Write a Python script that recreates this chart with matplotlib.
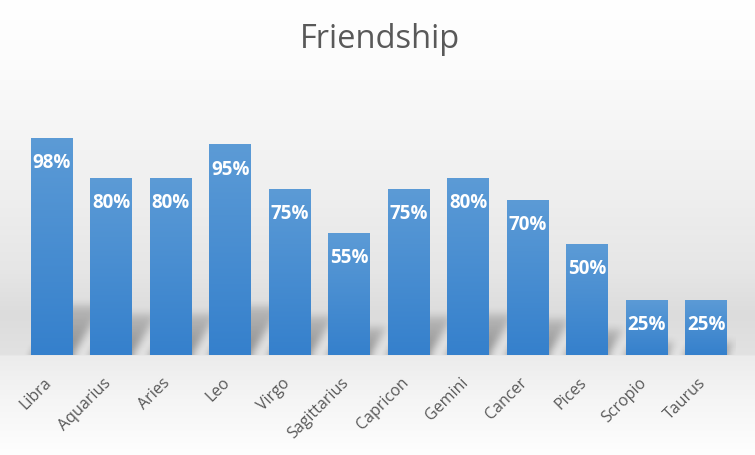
import numpy as np
import matplotlib.pyplot as plt
import matplotlib.transforms as mtransforms
from matplotlib.colors import LinearSegmentedColormap

signs = ['Libra', 'Aquarius', 'Aries', 'Leo', 'Virgo', 'Sagittarius',
         'Capricon', 'Gemini', 'Cancer', 'Pices', 'Scropio', 'Taurus']
friendship = [98, 80, 80, 95, 75, 55, 75, 80, 70, 50, 25, 25]

bar_w = 0.7
ylim_top = 1.2


def box_blur(a, r):
    # separable box blur, done with cumulative sums
    for axis in (0, 1):
        pad = [(0, 0), (0, 0)]
        pad[axis] = (r + 1, r)
        p = np.pad(a, pad, mode='edge')
        c = np.cumsum(p, axis=axis)
        if axis == 0:
            a = (c[2 * r + 1:] - c[:-2 * r - 1]) / (2 * r + 1)
        else:
            a = (c[:, 2 * r + 1:] - c[:, :-2 * r - 1]) / (2 * r + 1)
    return a


fig = plt.figure(figsize=(7.55, 4.56), dpi=100)

# chart background gradient
bg = fig.add_axes([0, 0, 1, 1], zorder=0)
stop_px = [0, 60, 130, 200, 270, 315, 355, 357, 400, 456]
stop_grey = [255, 252, 245, 238, 230, 220, 226, 236, 245, 254]
rows = np.interp(np.arange(456), stop_px, stop_grey) / 255
bg_img = np.repeat(rows[:, None, None], 3, axis=2)
bg.imshow(bg_img, extent=(0, 1, 0, 1), aspect='auto', origin='upper')
bg.set_xlim(0, 1)
bg.set_ylim(0, 1)
bg.axis('off')

ax = fig.add_axes([22 / 755, 100 / 456, 714 / 755, 266 / 456], zorder=1)
ax.patch.set_alpha(0)

x = np.arange(len(signs))
vals = np.array(friendship) / 100

# soft shadows cast behind the bars
W, H = 714, 266
gx = np.linspace(-0.5, len(signs) - 0.5, W)
gy = np.linspace(0, ylim_top, H)
X, Y = np.meshgrid(gx, gy)
shade = np.zeros((H, W))
for i, h in enumerate(vals):
    dy = 0.23 * h
    dx = 0.52 * h
    t = Y / dy
    inside = (Y <= dy) & (X >= i - bar_w / 2 + dx * t) & (X <= i + bar_w / 2 + dx * t)
    shade = np.maximum(shade, np.where(inside, 0.38 * (1 - 0.6 * t), 0))
shade = box_blur(box_blur(shade, 4), 4)
rgba = np.zeros((H, W, 4))
rgba[..., 3] = shade
ax.imshow(rgba, extent=(-0.5, len(signs) - 0.5, 0, ylim_top), origin='lower',
          aspect='auto', zorder=1, interpolation='bilinear')

bars = ax.bar(x, vals, width=bar_w, color='none', zorder=2)
cmap = LinearSegmentedColormap.from_list('bar', ['#3580cc', '#5c9bd6'])
grad = np.linspace(0, 1, 128)[:, None]
for b in bars:
    im = ax.imshow(grad, extent=(b.get_x(), b.get_x() + b.get_width(), 0, b.get_height()),
                   origin='lower', aspect='auto', cmap=cmap, zorder=2)
    im.set_clip_path(b)

for i, v in enumerate(friendship):
    ax.annotate(f'{v}%', (i, v / 100), xytext=(0, -17.5), textcoords='offset points',
                ha='center', va='center', color='white', fontsize=13.5,
                fontweight='bold', family='Open Sans', zorder=3)

ax.set_xlim(-0.5, len(signs) - 0.5)
ax.set_ylim(0, ylim_top)
ax.set_xticks([])
ax.set_yticks([])
for s in ax.spines.values():
    s.set_visible(False)

# category labels, rotated like Excel's
lab_tr = ax.get_xaxis_transform() + mtransforms.ScaledTranslation(3 / 100, -19 / 100, fig.dpi_scale_trans)
for i, name in enumerate(signs):
    ax.text(i, 0, name, transform=lab_tr, rotation=45, ha='right', va='top',
            fontsize=11.5, color='#595959', family='Open Sans', clip_on=False)

fig.text(380 / 755, 1 - 40 / 456, 'Friendship', ha='center', va='center',
         fontsize=23.5, color='#595959', family='Open Sans')

fig.savefig('out.png', dpi=100)
